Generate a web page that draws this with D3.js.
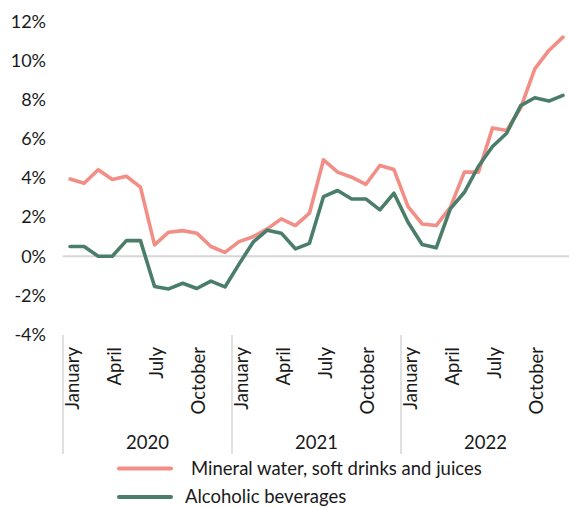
<!DOCTYPE html>
<html>
<head>
<meta charset="utf-8">
<script src="https://cdn.jsdelivr.net/npm/d3@7"></script>
<style>
  html, body { margin: 0; padding: 0; background: #fff; }
  svg text { font-family: Lato, "Open Sans", sans-serif; fill: #1a1a1a; }
</style>
</head>
<body>
<svg id="chart" width="569" height="507"></svg>
<script>
// Monthly year-on-year price change, Jan 2020 – Dec 2022
const years = ["2020", "2021", "2022"];
const monthNames = ["January","February","March","April","May","June","July","August","September","October","November","December"];
const quarterMonths = ["January", "April", "July", "October"];
const yTicks = [-4, -2, 0, 2, 4, 6, 8, 10, 12];

const seriesNames = ["Mineral water, soft drinks and juices", "Alcoholic beverages"];
const mineralWater = [
  3.95, 3.73, 4.42, 3.92, 4.09, 3.53, 0.58, 1.23, 1.31, 1.18, 0.5, 0.2,
  0.75, 1.0, 1.4, 1.91, 1.57, 2.2, 4.93, 4.3, 4.04, 3.67, 4.64, 4.43,
  2.54, 1.65, 1.57, 2.5, 4.3, 4.3, 6.56, 6.43, 7.59, 9.58, 10.52, 11.2
];
const alcoholic = [
  0.5, 0.5, 0.0, 0.0, 0.8, 0.8, -1.55, -1.67, -1.38, -1.65, -1.27, -1.57,
  -0.4, 0.72, 1.33, 1.18, 0.38, 0.66, 3.05, 3.36, 2.93, 2.93, 2.37, 3.22,
  1.74, 0.6, 0.43, 2.42, 3.27, 4.6, 5.61, 6.29, 7.7, 8.1, 7.93, 8.22
];
const colors = ["#F28E85", "#4A7E6A"];

const svg = d3.select("#chart");

// one band per month across the three years
const months = [];
years.forEach(y => monthNames.forEach(m => months.push(y + "-" + m)));

const x = d3.scaleBand().domain(months).range([63, 570]).paddingInner(0).paddingOuter(0);
const y = d3.scaleLinear().domain([-4, 12]).range([334.5, 21.5]);

// y axis labels
const yAxis = d3.axisLeft(y).tickValues(yTicks).tickSize(0).tickPadding(0)
  .tickFormat(d => d + "%");
const gy = svg.append("g").attr("transform", "translate(46,0)").call(yAxis);
gy.select(".domain").remove();
gy.selectAll("text").attr("font-size", 18).attr("font-family", "Lato, sans-serif").attr("fill", "#1a1a1a");

// zero baseline
svg.append("line")
  .attr("x1", x.range()[0]).attr("x2", 569)
  .attr("y1", y(0)).attr("y2", y(0))
  .attr("stroke", "#d6d6d6").attr("stroke-width", 2);

// month labels (quarters), rotated
const tickMonths = months.filter(m => quarterMonths.includes(m.split("-")[1]));
const xAxis = d3.axisBottom(x).tickValues(tickMonths).tickSize(0).tickPadding(0)
  .tickFormat(d => d.split("-")[1]);
const gx = svg.append("g").attr("transform", "translate(0,347)").call(xAxis);
gx.select(".domain").remove();
gx.selectAll("text")
  .attr("font-size", 18.5).attr("font-family", "Lato, sans-serif").attr("fill", "#1a1a1a")
  .attr("transform", "rotate(-90)")
  .attr("text-anchor", "end")
  .attr("x", 0).attr("y", 0).attr("dy", "0.35em")
  .attr("dx", 0);
// shift rotated labels so they sit centred on their month
gx.selectAll(".tick").attr("transform", d => `translate(${x(d) + x.bandwidth() / 2 + 2},0)`);

// year group separators and labels
const yearScale = d3.scaleBand().domain(years).range(x.range());
years.forEach(yr => {
  svg.append("line")
    .attr("x1", yearScale(yr)).attr("x2", yearScale(yr))
    .attr("y1", 335).attr("y2", 454)
    .attr("stroke", "#d6d6d6").attr("stroke-width", 1.5);
  svg.append("text")
    .attr("x", yearScale(yr) + yearScale.bandwidth() / 2)
    .attr("y", 449)
    .attr("text-anchor", "middle")
    .attr("font-size", 18.5)
    .text(yr);
});

// lines
const line = d3.line()
  .x((d, i) => x(months[i]) + x.bandwidth() / 2)
  .y(d => y(d));

[mineralWater, alcoholic].forEach((vals, k) => {
  svg.append("path")
    .datum(vals)
    .attr("fill", "none")
    .attr("stroke", colors[k])
    .attr("stroke-width", 3.6)
    .attr("stroke-linejoin", "round")
    .attr("stroke-linecap", "round")
    .attr("d", line);
});

// legend
const legendY = [468.5, 497];
seriesNames.forEach((name, k) => {
  svg.append("line")
    .attr("x1", 119).attr("x2", 171)
    .attr("y1", legendY[k]).attr("y2", legendY[k])
    .attr("stroke", colors[k]).attr("stroke-width", 4)
    .attr("stroke-linecap", "round");
  svg.append("text")
    .attr("x", k === 0 ? 191 : 185).attr("y", legendY[k])
    .attr("dy", "0.35em")
    .attr("font-size", 18.5)
    .text(name);
});
</script>
</body>
</html>
